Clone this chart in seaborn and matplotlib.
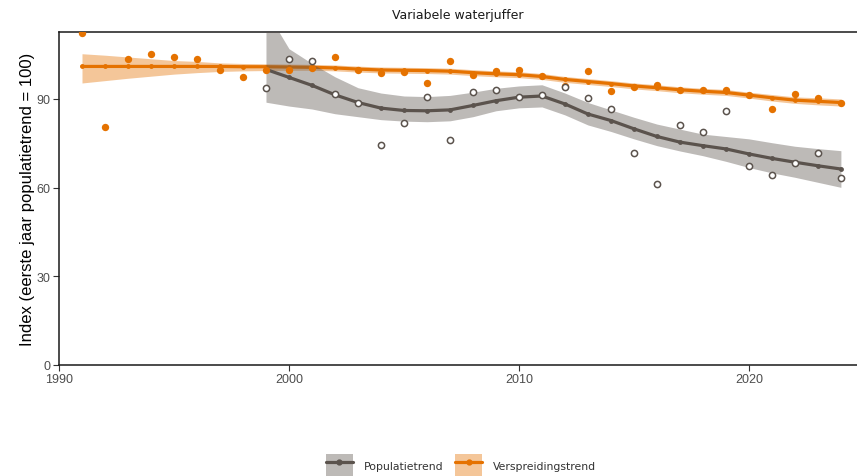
import matplotlib
matplotlib.use("Agg")
import matplotlib.pyplot as plt
from matplotlib.patches import Patch
from matplotlib.lines import Line2D
from matplotlib.legend_handler import HandlerTuple
import numpy as np
import pandas as pd
import seaborn as sns

# --- data -------------------------------------------------------------
spread_years = list(range(1991, 2025))
spread_index = [112.3, 80.5, 103.5, 105.2, 104.2, 103.5, 99.7, 97.3, 99.7, 99.9,
                100.4, 104.1, 99.9, 98.8, 99.0, 95.4, 103.0, 98.0, 99.3, 99.9,
                97.7, 94.3, 99.3, 92.8, 94.2, 94.6, 92.9, 93.1, 93.1, 91.4,
                86.6, 91.8, 90.2, 88.8]
spread_trend = [101.0, 101.0, 101.0, 101.0, 101.0, 101.0, 101.0, 100.9, 100.9, 100.8,
                100.7, 100.5, 100.1, 99.8, 99.7, 99.6, 99.4, 98.9, 98.5, 98.2,
                97.6, 96.6, 95.9, 95.2, 94.4, 93.8, 93.1, 92.6, 92.2, 91.3,
                90.4, 89.6, 89.2, 88.8]
spread_lo = [95.4, 96.2, 97.0, 97.7, 98.4, 98.9, 99.3, 99.5, 99.6, 99.7,
             99.7, 99.5, 99.1, 98.8, 98.7, 98.6, 98.4, 97.9, 97.5, 97.2,
             96.6, 95.6, 94.9, 94.2, 93.4, 92.8, 92.1, 91.6, 91.2, 90.3,
             89.3, 88.5, 88.0, 87.6]
spread_hi = [105.3, 104.8, 104.2, 103.6, 103.0, 102.7, 102.2, 102.0, 101.9, 101.8,
             101.7, 101.5, 101.1, 100.8, 100.7, 100.6, 100.4, 99.9, 99.5, 99.2,
             98.6, 97.6, 96.9, 96.2, 95.4, 94.8, 94.1, 93.6, 93.2, 92.3,
             91.5, 90.7, 90.4, 90.0]

pop_years = list(range(1999, 2025))
pop_index = [93.6, 103.4, 103.0, 91.8, 88.8, 74.3, 81.7, 90.5, 76.2, 92.4,
             92.9, 90.7, 91.4, 94.0, 90.3, 86.6, 71.7, 61.2, 81.2, 78.7,
             86.0, 67.4, 64.4, 68.3, 71.7, 63.3]
pop_trend = [100.0, 97.3, 94.6, 91.4, 88.8, 86.9, 86.1, 86.0, 86.3, 87.8,
             89.4, 90.6, 91.0, 88.3, 84.9, 82.7, 79.9, 77.3, 75.4, 74.2,
             73.1, 71.4, 69.9, 68.6, 67.4, 66.3]
pop_lo = [88.9, 87.6, 86.6, 85.0, 84.0, 83.0, 82.5, 82.3, 82.6, 84.0,
          86.0, 87.0, 87.3, 84.6, 81.2, 79.0, 76.5, 74.2, 72.4, 70.8,
          68.9, 66.8, 65.0, 63.5, 61.8, 60.1]
pop_hi = [120.0, 107.0, 102.0, 97.5, 93.8, 92.0, 91.0, 90.8, 91.2, 92.3,
          93.6, 94.4, 94.8, 92.0, 88.8, 86.3, 83.8, 81.5, 79.8, 78.1,
          77.3, 76.5, 75.2, 74.0, 73.2, 72.5]

series_labels = ["Populatietrend", "Verspreidingstrend"]
x_ticks = [1990, 2000, 2010, 2020]
y_ticks = [0, 30, 60, 90]

# --- styling ----------------------------------------------------------
ORANGE = "#E57200"
GREY = "#5B534D"

sns.set_theme(style="white")
plt.rcParams["font.family"] = ["Liberation Sans", "DejaVu Sans"]

spread = pd.DataFrame({"jaar": spread_years, "index": spread_index, "trend": spread_trend})
pop = pd.DataFrame({"jaar": pop_years, "index": pop_index, "trend": pop_trend})

fig = plt.figure(figsize=(8.57, 4.77), dpi=100)
ax = fig.add_axes([59 / 857, 1 - 366 / 477, 1 - 59 / 857, (366 - 33) / 477])

# distribution trend: band + line
ax.fill_between(spread_years, spread_lo, spread_hi, color=ORANGE, alpha=0.4,
                linewidth=0, zorder=1)
sns.lineplot(data=spread, x="jaar", y="trend", ax=ax, color=ORANGE, linewidth=2.3,
             marker="o", markersize=3.5, markeredgewidth=0, zorder=2)

# population trend: band + line
ax.fill_between(pop_years, pop_lo, pop_hi, color=GREY, alpha=0.4,
                linewidth=0, zorder=3)
sns.lineplot(data=pop, x="jaar", y="trend", ax=ax, color=GREY, linewidth=2.3,
             marker="o", markersize=3.5, markeredgewidth=0, zorder=4)

# yearly indices
sns.scatterplot(data=spread, x="jaar", y="index", ax=ax, color=ORANGE, s=28,
                linewidth=0, zorder=5)
sns.scatterplot(data=pop, x="jaar", y="index", ax=ax, facecolor="white",
                edgecolor=GREY, s=20, linewidth=1.1, zorder=6)

ax.set_xlim(1990, 2024.7)
ax.set_ylim(0, 112.65)
ax.set_xticks(x_ticks)
ax.set_yticks(y_ticks)
ax.tick_params(axis="both", which="both", direction="out", length=4, width=0.8,
               color="#333333", labelsize=9, labelcolor="#4D4D4D", pad=2,
               bottom=True, left=True)

for side in ["left", "bottom", "top"]:
    ax.spines[side].set_visible(True)
    ax.spines[side].set_color("#1a1a1a")
    ax.spines[side].set_linewidth(1.1)
ax.spines["right"].set_visible(False)

ax.set_xlabel("")
ax.set_ylabel("Index (eerste jaar populatietrend = 100)", fontsize=12,
              color="black", labelpad=1)
ax.set_title("Variabele waterjuffer", fontsize=9, color="#1a1a1a", pad=10,
             family=["DejaVu Sans"])

# legend: ribbon key with trend line on top
handles = [
    (Patch(facecolor=GREY, alpha=0.4, edgecolor="none"),
     Line2D([], [], color=GREY, linewidth=2.3, marker="o", markersize=3.5)),
    (Patch(facecolor=ORANGE, alpha=0.4, edgecolor="none"),
     Line2D([], [], color=ORANGE, linewidth=2.3, marker="o", markersize=3.5)),
]
fig.legend(handles, series_labels, handler_map={tuple: HandlerTuple(ndivide=1, pad=0)},
           loc="center", bbox_to_anchor=(0.538, 0.022), ncol=2, frameon=False,
           prop={"family": ["DejaVu Sans"], "size": 7.8},
           handlelength=2.5, handleheight=2.8, columnspacing=1.1,
           handletextpad=1.0, labelcolor="#333333")

fig.savefig("out.png", dpi=100)
